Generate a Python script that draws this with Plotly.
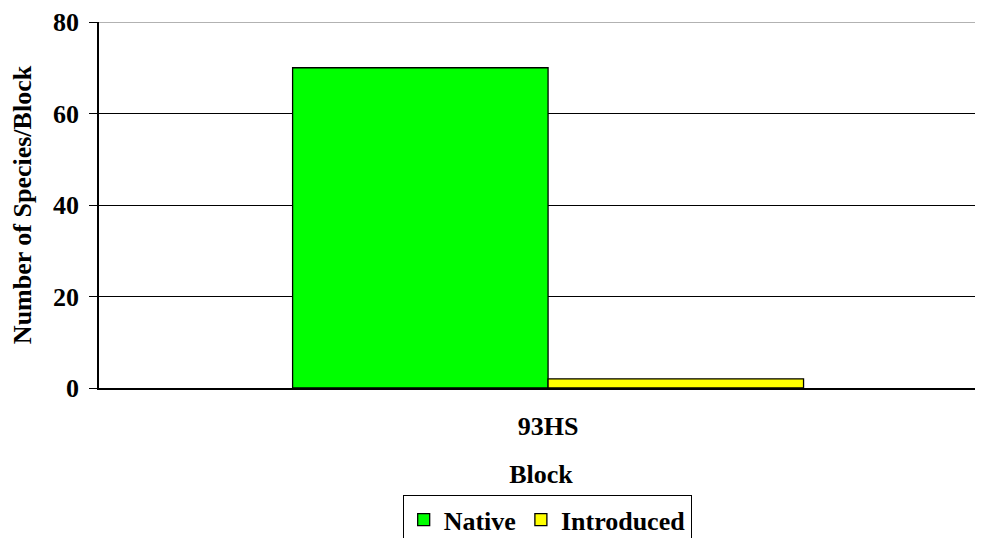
import plotly.graph_objects as go

categories = ["93HS"]
native = [70]
introduced = [2]
y_ticks = [0, 20, 40, 60, 80]

FONT = "Liberation Serif"
FS = 26

fig = go.Figure()
fig.add_trace(go.Bar(name="<b>Native</b>", x=categories, y=native,
                     marker=dict(color="#00FF00", line=dict(color="black", width=1.3))))
fig.add_trace(go.Bar(name="<b>Introduced</b>", x=categories, y=introduced,
                     marker=dict(color="#FFFF00", line=dict(color="black", width=1.3))))

fig.update_layout(
    width=975, height=538,
    margin=dict(l=91, r=0, t=12, b=158),
    paper_bgcolor="white", plot_bgcolor="white",
    barmode="group", bargap=0.422, bargroupgap=0,
    font=dict(family=FONT, color="black", size=FS),
    showlegend=True,
    legend=dict(orientation="h", x=0.507, xanchor="center", y=-0.293, yanchor="top",
                bordercolor="black", borderwidth=1, bgcolor="white",
                font=dict(family=FONT, size=FS, color="black"),
                itemwidth=30, tracegroupgap=0),
)
fig.update_xaxes(
    range=[-0.508, 0.492],
    showline=True, linecolor="black", linewidth=1.5,
    ticks="", showgrid=False,
    tickfont=dict(family=FONT, size=FS),
    ticktext=["<b>93HS</b>"], tickvals=categories,
    ticklabelstandoff=14,
    title=dict(text="<b>Block</b>", font=dict(family=FONT, size=FS), standoff=25),
)
fig.update_yaxes(
    range=[0, 80], tickvals=y_ticks, ticktext=[f"<b>{v}</b>" for v in y_ticks],
    showline=True, linecolor="black", linewidth=1.5,
    ticks="outside", ticklen=8, tickcolor="black",
    showgrid=True, gridcolor="black", gridwidth=1,
    tickfont=dict(family=FONT, size=FS),
    ticklabelstandoff=5, ticklabeloverflow="allow",
    title=dict(text="<b>Number of Species/Block</b>", font=dict(family=FONT, size=FS), standoff=18),
    zeroline=False,
)
fig.add_shape(type="line", xref="paper", yref="y", x0=0, x1=1, y0=80, y1=80,
              line=dict(color="#999999", width=1.5))

fig.write_html("out.html")
